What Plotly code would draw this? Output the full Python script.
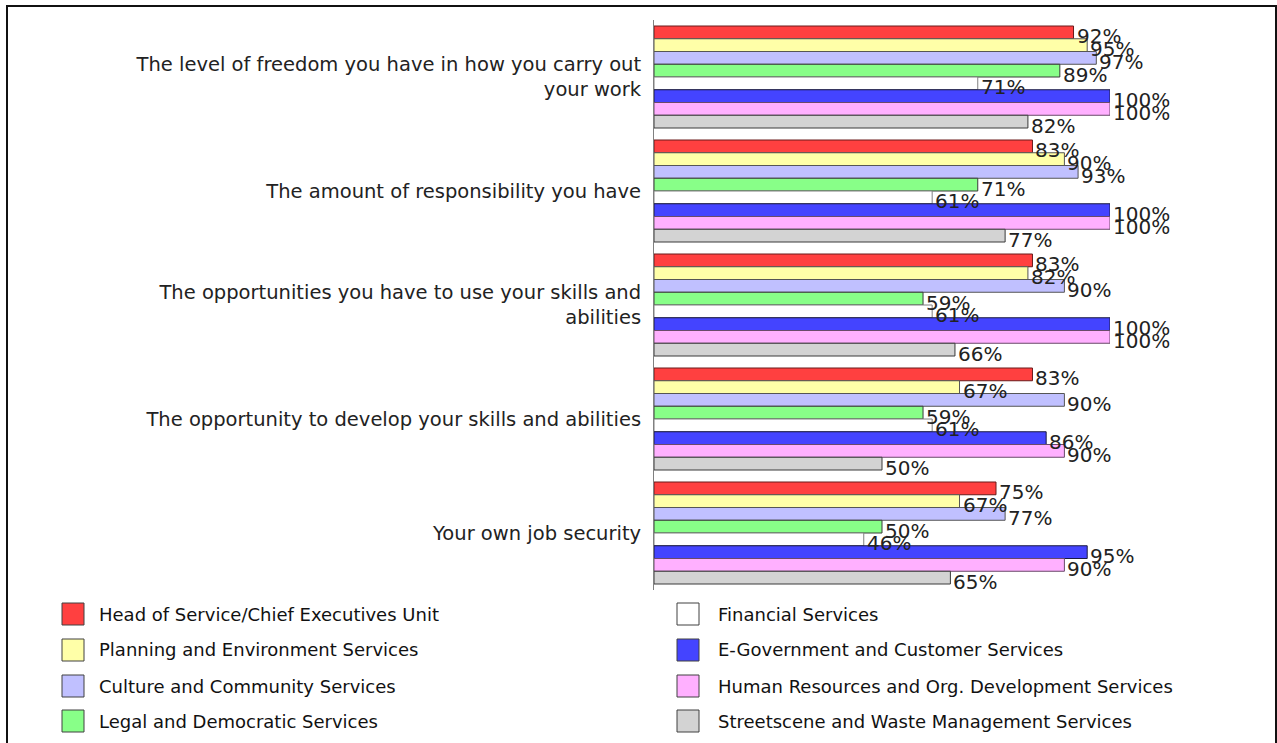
import plotly.graph_objects as go

# Survey statements (top to bottom)
statements = [
    "The level of freedom you have in how you carry out<br>your work",
    "The amount of responsibility you have",
    "The opportunities you have to use your skills and<br>abilities",
    "The opportunity to develop your skills and abilities",
    "Your own job security",
]

# Services, in bar order within each group
services = [
    "Head of Service/Chief Executives Unit",
    "Planning and Environment Services",
    "Culture and Community Services",
    "Legal and Democratic Services",
    "Financial Services",
    "E-Government and Customer Services",
    "Human Resources and Org. Development Services",
    "Streetscene and Waste Management Services",
]

# Percentage satisfied, one list per service (same order as statements)
head_of_service = [92, 83, 83, 83, 75]
planning_env = [95, 90, 82, 67, 67]
culture_comm = [97, 93, 90, 90, 77]
legal_dem = [89, 71, 59, 59, 50]
financial = [71, 61, 61, 61, 46]
egov_customer = [100, 100, 100, 86, 95]
hr_orgdev = [100, 100, 100, 90, 90]
streetscene = [82, 77, 66, 50, 65]

series = [head_of_service, planning_env, culture_comm, legal_dem,
          financial, egov_customer, hr_orgdev, streetscene]

fills = ["#FF4040", "#FFFFA8", "#C0C0FF", "#88FF88",
         "#FFFFFF", "#4444FF", "#FFB0FF", "#D3D3D3"]
edges = ["#6a1a1a", "#555555", "#555555", "#3a3a3a",
         "#808080", "#1a1a40", "#6a4a6a", "#3a3a3a"]

W, H = 1277, 743
ML, MR, MT, MB = 654, 167, 20, 153
PW, PH = W - ML - MR, H - MT - MB

n_series = len(series)
bar_w = 0.8947 / n_series  # bars fill most of each category slot

font_family = "DejaVu Sans, Verdana, sans-serif"

fig = go.Figure()
annotations = []
for s, (name, vals) in enumerate(zip(services, series)):
    ypos = [g + (s - (n_series - 1) / 2) * bar_w for g in range(len(statements))]
    fig.add_trace(go.Bar(
        name=name, orientation="h", x=vals, y=ypos, width=bar_w,
        marker=dict(color=fills[s], line=dict(color=edges[s], width=1)),
        showlegend=False, hoverinfo="x+name",
    ))
    for v, y in zip(vals, ypos):
        annotations.append(dict(
            x=v, y=y, xref="x", yref="y", text=f"{v}%", showarrow=False,
            xanchor="left", yanchor="middle", xshift=1, yshift=-4,
            font=dict(family=font_family, size=20, color="#222222"),
        ))


def px_x(p):
    return (p - ML) / PW


def px_y(p):
    return (H - MB - p) / PH


# Two-column legend drawn with shapes and text
shapes = []
leg_rows = [614, 650, 686, 721]
for i, name in enumerate(services):
    col, row = divmod(i, 4)
    x0 = 62 if col == 0 else 677
    tx = 97 if col == 0 else 716
    yc = leg_rows[row]
    shapes.append(dict(
        type="rect", xref="paper", yref="paper",
        x0=px_x(x0), x1=px_x(x0 + 22), y0=px_y(yc - 11), y1=px_y(yc + 11),
        fillcolor=fills[i], line=dict(color="#404040", width=1),
    ))
    annotations.append(dict(
        x=px_x(tx), y=px_y(yc), xref="paper", yref="paper", text=name,
        showarrow=False, xanchor="left", yanchor="middle",
        font=dict(family=font_family, size=18, color="#111111"),
    ))

# Outer frame
shapes.append(dict(
    type="rect", xref="paper", yref="paper",
    x0=px_x(7), x1=px_x(1276), y0=px_y(760), y1=px_y(6),
    line=dict(color="#111111", width=2), fillcolor="rgba(0,0,0,0)", layer="below",
))

fig.update_layout(
    width=W, height=H,
    margin=dict(l=ML, r=MR, t=MT, b=MB),
    paper_bgcolor="white", plot_bgcolor="white",
    barmode="overlay",
    xaxis=dict(range=[0, 100], visible=False, fixedrange=True),
    yaxis=dict(
        range=[len(statements) - 0.5, -0.5],
        tickmode="array", tickvals=list(range(len(statements))), ticktext=statements,
        showgrid=False, zeroline=False,
        showline=True, linecolor="#808080", linewidth=1,
        ticks="", ticklabelstandoff=8,
        tickfont=dict(family=font_family, size=19.5, color="#222222"),
    ),
    annotations=annotations,
    shapes=shapes,
    showlegend=False,
)

fig.write_html("out.html")
